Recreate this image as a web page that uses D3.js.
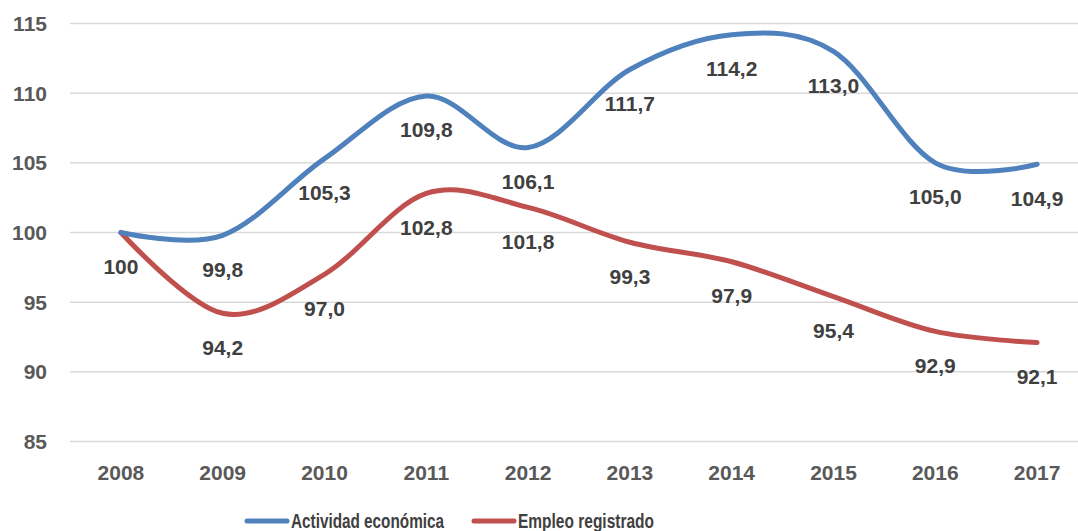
<!DOCTYPE html>
<html>
<head>
<meta charset="utf-8">
<script src="https://cdn.jsdelivr.net/npm/d3@7"></script>
<style>
    body { margin: 0; background: #fff; overflow: hidden; }
    svg { display: block; }
    svg text { font-family: "Liberation Sans", Arial, sans-serif; font-weight: bold; }
    .grid line { stroke: #d9d9d9; stroke-width: 1.5px; }
    .line { fill: none; stroke-width: 5px; stroke-linecap: round; }
    .tick-label { fill: #595959; font-size: 21px; }
    .data-label { fill: #404040; font-size: 21px; }
    .legend text { fill: #404040; font-size: 21px; }
</style>
</head>
<body>
<script>
var years = ["2008", "2009", "2010", "2011", "2012", "2013", "2014", "2015", "2016", "2017"];
var actividad = [100, 99.8, 105.3, 109.8, 106.1, 111.7, 114.2, 113.0, 105.0, 104.9];
var empleo = [100, 94.2, 97.0, 102.8, 101.8, 99.3, 97.9, 95.4, 92.9, 92.1];
var actividadLabels = ["100", "99,8", "105,3", "109,8", "106,1", "111,7", "114,2", "113,0", "105,0", "104,9"];
var empleoLabels = ["", "94,2", "97,0", "102,8", "101,8", "99,3", "97,9", "95,4", "92,9", "92,1"];
var yTicks = [85, 90, 95, 100, 105, 110, 115];
var seriesNames = ["Actividad económica", "Empleo registrado"];
var seriesColors = ["#4f81bd", "#c0504d"];
// legend text is a condensed face in the source, squeeze it to the same width
var legendWidths = [153, 136];

var _width = 1078,
    _height = 531,
    _margins = { top: 23.5, left: 70, right: 0, bottom: 89.5 };

var svg = d3.select("body").append("svg")
    .attr("width", _width)
    .attr("height", _height);

// the category bands run a little past the right edge, as in the source
var x = d3.scaleBand()
    .domain(years)
    .range([_margins.left, _margins.left + 10 * 101.8]);

var y = d3.scaleLinear()
    .domain([85, 115])
    .range([_height - _margins.bottom, _margins.top]);

function cx(i) {
    return x(years[i]) + x.bandwidth() / 2;
}

// gridlines
svg.append("g")
    .attr("class", "grid")
    .selectAll("line")
    .data(yTicks)
    .enter()
    .append("line")
    .attr("x1", _margins.left)
    .attr("x2", _width)
    .attr("y1", function(d) { return y(d); })
    .attr("y2", function(d) { return y(d); });

// y axis labels
svg.append("g")
    .selectAll("text")
    .data(yTicks)
    .enter()
    .append("text")
    .attr("class", "tick-label")
    .attr("x", 47)
    .attr("y", function(d) { return y(d); })
    .attr("dy", "0.36em")
    .attr("text-anchor", "end")
    .text(function(d) { return d; });

// x axis labels
svg.append("g")
    .selectAll("text")
    .data(years)
    .enter()
    .append("text")
    .attr("class", "tick-label")
    .attr("x", function(d, i) { return cx(i); })
    .attr("y", 480)
    .attr("text-anchor", "middle")
    .text(function(d) { return d; });

var line = d3.line()
    .x(function(d, i) { return cx(i); })
    .y(function(d) { return y(d); })
    .curve(d3.curveCardinal.tension(0));

var series = [actividad, empleo];
var labels = [actividadLabels, empleoLabels];

// red underneath, blue on top
[1, 0].forEach(function(s) {
    svg.append("path")
        .datum(series[s])
        .attr("class", "line")
        .style("stroke", seriesColors[s])
        .attr("d", line);
});

series.forEach(function(values, s) {
    svg.append("g")
        .selectAll("text")
        .data(values)
        .enter()
        .append("text")
        .attr("class", "data-label")
        .attr("x", function(d, i) { return cx(i); })
        .attr("y", function(d) { return y(d) + 41.5; })
        .attr("text-anchor", "middle")
        .text(function(d, i) { return labels[s][i]; });
});

// legend
var legend = svg.append("g").attr("class", "legend");
var lx = 247;
seriesNames.forEach(function(name, i) {
    legend.append("line")
        .attr("x1", lx)
        .attr("x2", lx + 40)
        .attr("y1", 521)
        .attr("y2", 521)
        .style("stroke", seriesColors[i])
        .style("stroke-width", 5)
        .style("stroke-linecap", "round");
    legend.append("text")
        .attr("x", lx + 44)
        .attr("y", 528)
        .attr("textLength", legendWidths[i])
        .attr("lengthAdjust", "spacingAndGlyphs")
        .text(name);
    lx += 44 + legendWidths[i] + 30;
});
</script>
</body>
</html>
